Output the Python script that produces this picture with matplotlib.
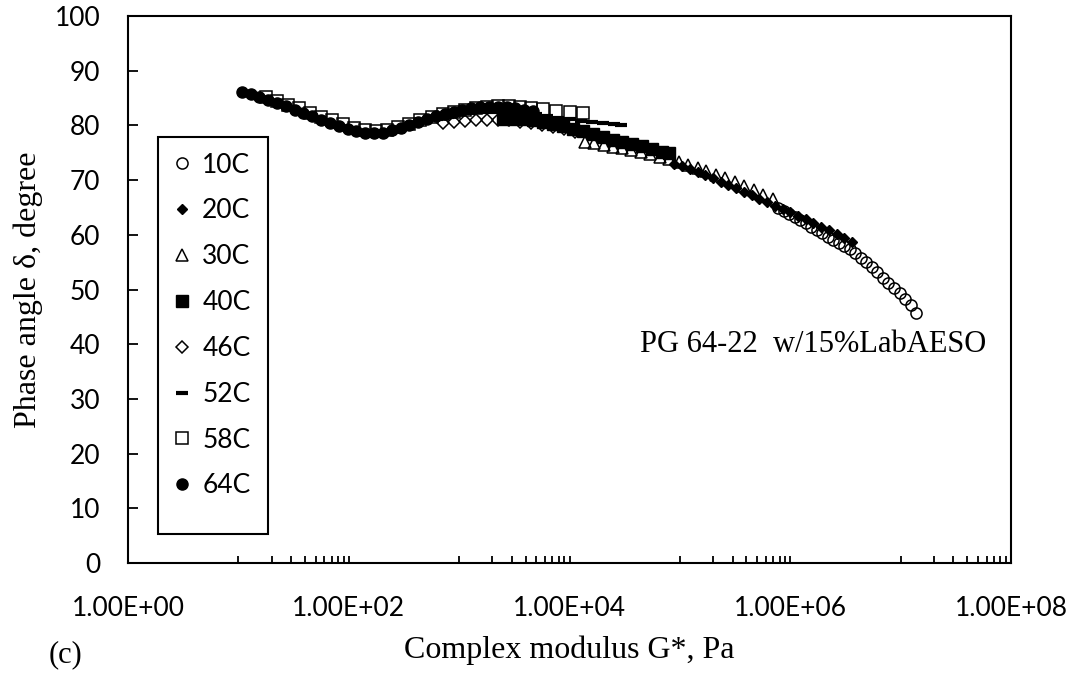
import numpy as np
import matplotlib
matplotlib.use('Agg')
import matplotlib.pyplot as plt
from matplotlib.patches import Rectangle
from matplotlib.ticker import FixedLocator, FuncFormatter

# master curve data: log10(G*, Pa) and phase angle (deg) per test temperature
logG_10C = [5.89, 5.94, 5.99, 6.04, 6.09, 6.14, 6.19, 6.24, 6.29, 6.34, 6.39, 6.44, 6.49,
            6.54, 6.59, 6.64, 6.69, 6.74, 6.79, 6.84, 6.89, 6.94, 6.99, 7.04, 7.09, 7.14]
delta_10C = [64.9, 64.3, 63.8, 63.3, 62.7, 62.1, 61.5, 60.9, 60.3, 59.6, 59.0, 58.5, 58.0,
             57.4, 56.6, 55.8, 55.0, 54.1, 53.2, 52.1, 51.2, 50.3, 49.4, 48.3, 47.1, 45.7]

logG_20C = [4.95, 5.02, 5.09, 5.16, 5.23, 5.30, 5.37, 5.44, 5.51, 5.58, 5.65, 5.72,
            5.79, 5.86, 5.93, 6.00, 6.07, 6.14, 6.21, 6.28, 6.35, 6.42, 6.49, 6.56]
delta_20C = [73.0, 72.5, 72.0, 71.4, 70.9, 70.3, 69.7, 69.1, 68.5, 67.9, 67.3, 66.6,
             66.0, 65.3, 64.7, 64.1, 63.5, 62.8, 62.2, 61.5, 60.8, 60.1, 59.4, 58.7]

logG_30C = [4.14, 4.22, 4.31, 4.39, 4.48, 4.56, 4.65, 4.73, 4.82, 4.90, 4.99,
            5.07, 5.16, 5.24, 5.33, 5.41, 5.50, 5.58, 5.67, 5.75, 5.84]
delta_30C = [77.0, 76.7, 76.4, 76.1, 75.8, 75.5, 75.1, 74.7, 74.2, 73.8, 73.3,
             72.8, 72.2, 71.6, 71.0, 70.3, 69.6, 68.9, 68.1, 67.3, 66.5]

logG_40C = [3.40, 3.49, 3.58, 3.67, 3.76, 3.85, 3.94, 4.03, 4.12,
            4.21, 4.30, 4.39, 4.48, 4.57, 4.66, 4.75, 4.84, 4.90]
delta_40C = [81.2, 81.2, 81.1, 80.9, 80.6, 80.3, 79.9, 79.4, 78.9,
             78.4, 77.9, 77.4, 77.0, 76.6, 76.2, 75.7, 75.2, 74.9]

logG_46C = [2.85, 2.95, 3.05, 3.15, 3.25, 3.35, 3.45, 3.55, 3.65, 3.75, 3.85, 3.95, 4.05]
delta_46C = [80.4, 80.6, 80.8, 80.9, 81.0, 81.0, 80.9, 80.7, 80.4, 80.1, 79.7, 79.3, 78.8]

logG_52C = [1.90, 2.00, 2.10, 2.20, 2.30, 2.40, 2.50, 2.60, 2.70, 2.80, 2.90, 3.00, 3.10, 3.20,
            3.30, 3.40, 3.50, 3.60, 3.70, 3.80, 3.90, 4.00, 4.10, 4.20, 4.30, 4.40, 4.47]
delta_52C = [79.7, 79.2, 78.8, 78.6, 78.7, 79.0, 79.5, 80.1, 80.7, 81.2, 81.6, 82.0, 82.3, 82.4,
             82.5, 82.5, 82.4, 82.2, 82.0, 81.7, 81.4, 81.1, 80.8, 80.6, 80.4, 80.2, 80.0]

logG_58C = [1.25, 1.35, 1.45, 1.55, 1.65, 1.75, 1.85, 1.95, 2.05, 2.15, 2.25, 2.35, 2.45, 2.55,
            2.65, 2.75, 2.85, 2.95, 3.05, 3.15, 3.25, 3.35, 3.45, 3.55, 3.65, 3.76, 3.88, 4.00, 4.12]
delta_58C = [85.2, 84.5, 83.8, 83.1, 82.3, 81.6, 80.9, 80.2, 79.6, 79.2, 79.0, 79.2, 79.7, 80.3,
             80.9, 81.5, 82.0, 82.5, 82.9, 83.2, 83.4, 83.5, 83.5, 83.4, 83.2, 83.0, 82.7, 82.5, 82.3]

logG_64C = [1.03, 1.11, 1.19, 1.27, 1.35, 1.43, 1.51, 1.59, 1.67, 1.75, 1.83, 1.91, 1.99, 2.07, 2.15,
            2.23, 2.31, 2.39, 2.47, 2.55, 2.63, 2.71, 2.79, 2.87, 2.95, 3.03, 3.11, 3.19, 3.27, 3.35,
            3.43, 3.51, 3.59, 3.67]
delta_64C = [86.1, 85.7, 85.2, 84.7, 84.1, 83.5, 82.9, 82.3, 81.7, 81.0, 80.4, 79.9, 79.4, 79.0, 78.7,
             78.6, 78.7, 79.1, 79.6, 80.1, 80.7, 81.2, 81.7, 82.1, 82.5, 82.9, 83.1, 83.3, 83.4, 83.4,
             83.3, 83.1, 82.9, 82.7]

temps = ['10C', '20C', '30C', '40C', '46C', '52C', '58C', '64C']
series = {
    '10C': (logG_10C, delta_10C),
    '20C': (logG_20C, delta_20C),
    '30C': (logG_30C, delta_30C),
    '40C': (logG_40C, delta_40C),
    '46C': (logG_46C, delta_46C),
    '52C': (logG_52C, delta_52C),
    '58C': (logG_58C, delta_58C),
    '64C': (logG_64C, delta_64C),
}

# marker, size, face, edge width
styles = {
    '10C': ('o', 8.0, 'none', 1.1),
    '20C': ('D', 5.5, 'black', 1.0),
    '30C': ('^', 8.5, 'none', 1.1),
    '40C': ('s', 8.3, 'black', 1.0),
    '46C': ('D', 6.5, 'none', 1.1),
    '52C': ('_', 9.0, 'black', 3.0),
    '58C': ('s', 8.0, 'none', 1.1),
    '64C': ('o', 8.0, 'black', 1.0),
}

tick_font = 'Lato'
serif_font = 'Liberation Serif'

fig = plt.figure(figsize=(10.78, 6.74), dpi=100)
W, H = 1078, 674
ax = fig.add_axes([128 / W, 1 - 563 / H, (1011 - 128) / W, (563 - 16) / H])

for i, t in enumerate(temps):
    lg, d = series[t]
    m, ms, fc, mew = styles[t]
    ax.plot(10 ** np.array(lg), d, linestyle='none', marker=m, markersize=ms,
            markerfacecolor=fc, markeredgecolor='black', markeredgewidth=mew,
            color='black', label=t, zorder=3 + i)

ax.set_xscale('log')
ax.set_xlim(1, 1e8)
ax.set_ylim(0, 100)

ax.xaxis.set_major_locator(FixedLocator([1e0, 1e2, 1e4, 1e6, 1e8]))
ax.xaxis.set_major_formatter(FuncFormatter(lambda v, p: f'{v:.2E}'))
minor = [m * 10.0 ** e for e in (1, 3, 5, 7) for m in range(1, 10)]
ax.xaxis.set_minor_locator(FixedLocator(minor))
ax.xaxis.set_minor_formatter(FuncFormatter(lambda v, p: ''))
ax.set_yticks(np.arange(0, 101, 10))

for s in ax.spines.values():
    s.set_linewidth(1.5)
ax.tick_params(axis='x', which='both', direction='in', length=5, width=1.3,
               pad=24, labelsize=19, top=False)
ax.tick_params(axis='y', which='major', direction='in', length=7.5, width=1.3,
               pad=20, labelsize=19, right=False)
for lab in ax.get_xticklabels() + ax.get_yticklabels():
    lab.set_fontfamily(tick_font)

ax.set_xlabel('Complex modulus G*, Pa', fontfamily=serif_font, fontsize=23, labelpad=10)
ax.set_ylabel('Phase angle δ, degree', fontfamily=serif_font, fontsize=23, labelpad=8)

fig.text(65 / W, 1 - 655 / H, '(c)', fontfamily=serif_font, fontsize=22,
         ha='center', va='center')
ax.text(0.58, 0.399, 'PG 64-22  w/15%LabAESO', transform=ax.transAxes,
        fontfamily=serif_font, fontsize=22, ha='left', va='center')

leg = ax.legend(loc='upper left', bbox_to_anchor=(160 / W, 1 - 142 / H),
                bbox_transform=fig.transFigure, borderaxespad=0, frameon=False,
                prop={'family': tick_font, 'size': 19}, handlelength=0.9,
                handletextpad=0.3, borderpad=0.4, labelspacing=0.79,
                numpoints=1)
fig.add_artist(Rectangle((158 / W, 1 - 534 / H), 110 / W, 397 / H,
                         transform=fig.transFigure, fill=False,
                         edgecolor='black', linewidth=1.5, zorder=20))

fig.savefig('out.png', dpi=100)
